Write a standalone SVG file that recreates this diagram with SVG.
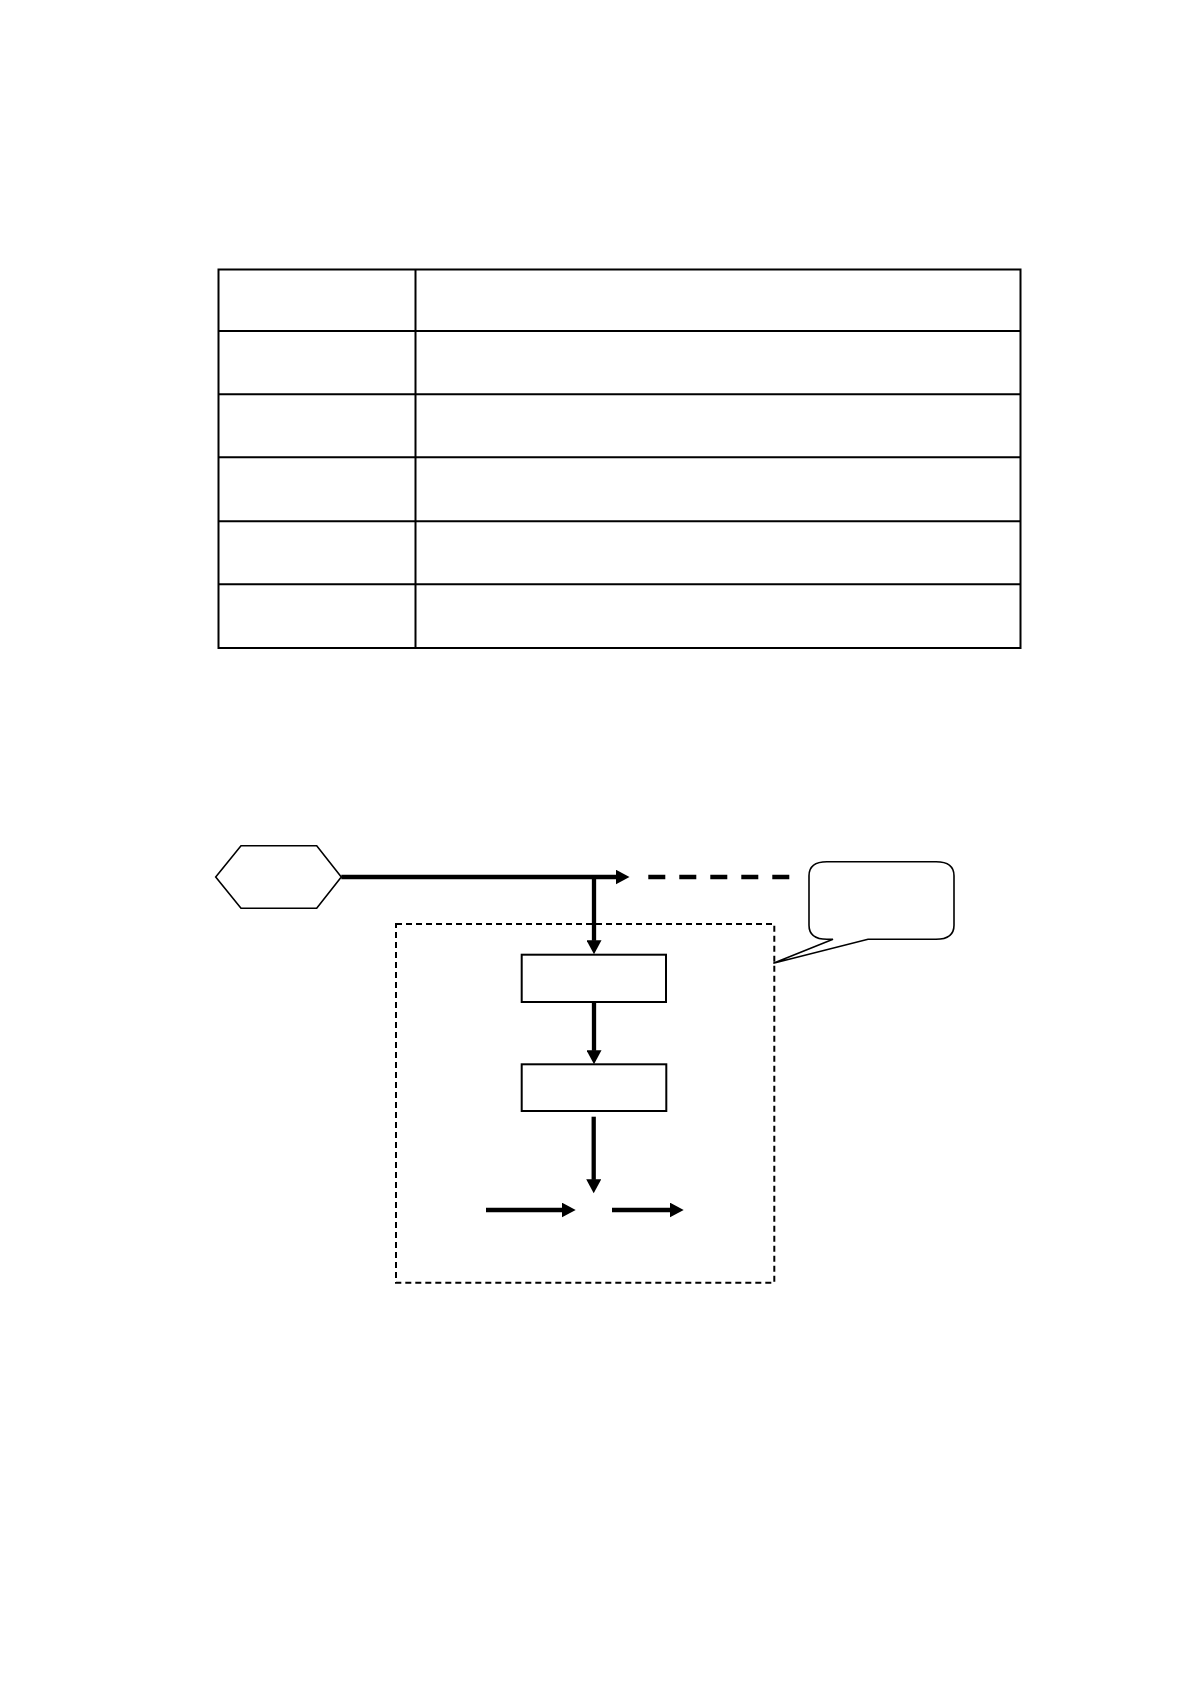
<svg xmlns="http://www.w3.org/2000/svg" width="1191" height="1685" viewBox="0 0 1191 1685">
<style>
.tbl{fill:none;stroke:#000;stroke-width:2}
.node{fill:#fff;stroke:#000;stroke-width:2}
.thin{fill:#fff;stroke:#000;stroke-width:1.6}
.grp{fill:none;stroke:#000;stroke-width:2;stroke-dasharray:6,4}
.conn{fill:none;stroke:#000;stroke-width:4.3}
.dash{fill:none;stroke:#000;stroke-width:4.3;stroke-dasharray:17,14}
</style>
<defs>
<marker id="ah" markerUnits="userSpaceOnUse" markerWidth="15" markerHeight="15" refX="0.5" refY="7.5" orient="auto" viewBox="0 0 15 15">
<path d="M0,0 L14,7.5 L0,15 Z" fill="#000"/>
</marker>
</defs>
<rect width="1191" height="1685" fill="#fff"/>
<g id="table">
<rect class="tbl" x="218.5" y="269.5" width="802" height="378.5"/>
<line class="tbl" x1="415.5" y1="269.5" x2="415.5" y2="648"/>
<line class="tbl" x1="218.5" y1="331" x2="1020.5" y2="331"/>
<line class="tbl" x1="218.5" y1="394.3" x2="1020.5" y2="394.3"/>
<line class="tbl" x1="218.5" y1="457.3" x2="1020.5" y2="457.3"/>
<line class="tbl" x1="218.5" y1="521.3" x2="1020.5" y2="521.3"/>
<line class="tbl" x1="218.5" y1="584.3" x2="1020.5" y2="584.3"/>
</g>
<g id="group-box">
<rect class="grp" x="396" y="924" width="378.3" height="358.7"/>
</g>
<g id="start">
<polygon class="thin" points="215.7,877 241,845.7 316.7,845.7 341.3,877 316.7,908.3 241,908.3"/>
</g>
<g id="box1">
<rect class="node" x="521.7" y="954.7" width="144.3" height="47.3"/>
</g>
<g id="box2">
<rect class="node" x="521.7" y="1064.3" width="144.6" height="46.7"/>
</g>
<g id="callout">
<path class="thin" d="M827,861.7 H936 Q954,861.7 954,875.7 V925.3 Q954,939.3 936,939.3 H868 L773.3,963.3 L833,939.3 H827 Q809,939.3 809,925.3 V875.7 Q809,861.7 827,861.7 Z"/>
</g>
<g id="connectors">
<line class="conn" x1="341.3" y1="877" x2="616" y2="877" marker-end="url(#ah)"/>
<line class="dash" x1="648.3" y1="877" x2="792" y2="877"/>
<line class="conn" x1="594" y1="875" x2="594" y2="940.8" marker-end="url(#ah)"/>
<line class="conn" x1="594" y1="1002" x2="594" y2="1050.8" marker-end="url(#ah)"/>
<line class="conn" x1="593.7" y1="1116.7" x2="593.7" y2="1179.8" marker-end="url(#ah)"/>
<line class="conn" x1="486" y1="1210" x2="562.2" y2="1210" marker-end="url(#ah)"/>
<line class="conn" x1="612" y1="1210" x2="670.2" y2="1210" marker-end="url(#ah)"/>
</g>
</svg>
